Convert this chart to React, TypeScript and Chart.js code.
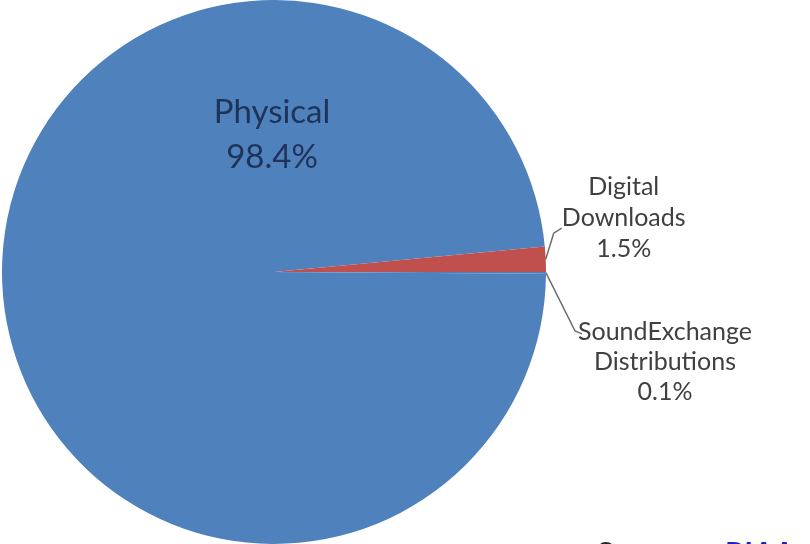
import React, { useEffect, useRef } from "react";
import { Chart, registerables } from "chart.js";

Chart.register(...registerables);

const categories = ["Physical", "Digital Downloads", "SoundExchange Distributions"];
const shares = [98.4, 1.5, 0.1];
const labelLines = [["Physical", "98.4%"], ["Digital", "Downloads", "1.5%"], ["SoundExchange", "Distributions", "0.1%"]];
const colors = ["#4f81bd", "#c0504d", "#4f81bd"];

const FONT = "Lato, 'Open Sans', sans-serif";

const labelPlugin = {
  id: "pieLabels",
  afterDraw(chart: any) {
    const ctx = chart.ctx as CanvasRenderingContext2D;
    const meta = chart.getDatasetMeta(0);
    const arcs = meta.data;
    ctx.save();
    ctx.textAlign = "center";
    ctx.textBaseline = "middle";

    // Physical label inside
    {
      const a = arcs[0];
      const cx = a.x;
      const cy = a.y;
      ctx.fillStyle = "#1f3358";
      ctx.font = `33px ${FONT}`;
      ctx.fillText(labelLines[0][0], cx - 2, cy - 160);
      ctx.fillText(labelLines[0][1], cx - 2, cy - 115);
    }

    const edge = (a: any) => {
      const mid = (a.startAngle + a.endAngle) / 2;
      return { x: a.x + Math.cos(mid) * a.outerRadius, y: a.y + Math.sin(mid) * a.outerRadius };
    };

    ctx.strokeStyle = "#6f6f6f";
    ctx.lineWidth = 1.5;

    // Digital Downloads
    {
      const p = edge(arcs[1]);
      ctx.beginPath();
      ctx.moveTo(p.x, p.y);
      ctx.lineTo(p.x + 8, p.y - 26);
      ctx.lineTo(p.x + 16, p.y - 31);
      ctx.stroke();
      ctx.fillStyle = "#404040";
      ctx.font = `25px ${FONT}`;
      const tx = p.x + 78;
      ctx.fillText(labelLines[1][0], tx, p.y - 72);
      ctx.fillText(labelLines[1][1], tx, p.y - 41);
      ctx.fillText(labelLines[1][2], tx, p.y - 10);
    }

    // SoundExchange
    {
      const p = edge(arcs[2]);
      ctx.beginPath();
      ctx.moveTo(p.x, p.y);
      ctx.lineTo(p.x + 29, p.y + 58);
      ctx.lineTo(p.x + 36, p.y + 61);
      ctx.stroke();
      ctx.fillStyle = "#404040";
      ctx.font = `25px ${FONT}`;
      const tx = p.x + 119;
      ctx.fillText(labelLines[2][0], tx, p.y + 59);
      ctx.fillText(labelLines[2][1], tx, p.y + 89);
      ctx.fillText(labelLines[2][2], tx, p.y + 119);
    }

    // Source, cut off at bottom
    ctx.textAlign = "left";
    ctx.textBaseline = "top";
    ctx.font = `bold 30px ${FONT}`;
    ctx.fillStyle = "#262626";
    ctx.fillText("Source:", 597, 539.5);
    ctx.fillStyle = "#2020c8";
    ctx.fillText("RIAA", 725, 539.5);
    ctx.restore();
  },
};

export default function App() {
  const ref = useRef<HTMLCanvasElement | null>(null);
  useEffect(() => {
    document.body.style.margin = "0";
    const chart = new Chart(ref.current as HTMLCanvasElement, {
      type: "pie",
      data: {
        labels: categories,
        datasets: [
          {
            data: shares,
            backgroundColor: colors,
            borderWidth: 0,
          },
        ],
      },
      options: {
        responsive: false,
        animation: false,
        rotation: 90.36,
        layout: { padding: { left: 0, top: 0, bottom: 0, right: 262 } },
        plugins: {
          legend: { display: false },
          tooltip: { enabled: false },
        },
      },
      plugins: [labelPlugin],
    });
    return () => chart.destroy();
  }, []);
  return (
    <div style={{ width: 810, height: 544, background: "#fff" }}>
      <canvas ref={ref} width={810} height={544} />
    </div>
  );
}
